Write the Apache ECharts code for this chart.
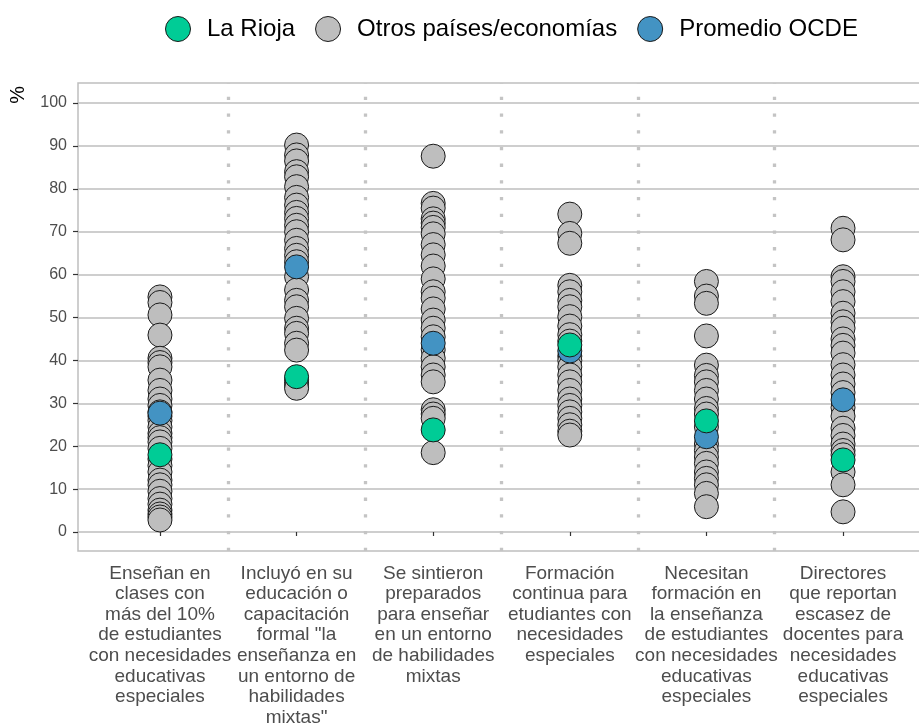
<!DOCTYPE html>
<html>
<head>
<meta charset="utf-8">
<script src="https://cdn.jsdelivr.net/npm/echarts@6/dist/echarts.min.js"></script>
<style>html,body{margin:0;padding:0;background:#fff}#c{width:919px;height:724px}</style>
</head>
<body>
<div id="c"></div>
<script>
var categories = [
  'Enseñan en\nclases con\nmás del 10%\nde estudiantes\ncon necesidades\neducativas\nespeciales',
  'Incluyó en su\neducación o\ncapacitación\nformal "la\nenseñanza en\nun entorno de\nhabilidades\nmixtas"',
  'Se sintieron\npreparados\npara enseñar\nen un entorno\nde habilidades\nmixtas',
  'Formación\ncontinua para\netudiantes con\nnecesidades\nespeciales',
  'Necesitan\nformación en\nla enseñanza\nde estudiantes\ncon necesidades\neducativas\nespeciales',
  'Directores\nque reportan\nescasez de\ndocentes para\nnecesidades\neducativas\nespeciales'
];
var seriesNames = ['La Rioja', 'Otros países/economías', 'Promedio OCDE'];
var yTicks = [0, 10, 20, 30, 40, 50, 60, 70, 80, 90, 100];

var otros1 = [54.8, 53.5, 50.6, 45.9, 40.5, 39.5, 38.5, 35.4, 33, 31, 29.5, 28, 27, 26, 24.5, 23, 22, 21, 19.5, 17, 15.5, 14, 12.1, 11, 9.5, 7.8, 6.5, 5.1, 4.2, 3.5, 2.8];
var otros2 = [90.2, 87.9, 86.5, 84, 82.8, 80.5, 78, 76.2, 74.5, 73.1, 71.5, 70, 68, 66.1, 64.5, 63, 59.5, 56.4, 54, 52.5, 49.8, 47.5, 46.3, 44, 42.4, 35.5, 34.7, 34, 33.5];
var otros3 = [87.6, 76.6, 75.5, 73, 72, 71, 69.5, 67, 64.6, 62, 59, 56, 54.5, 52, 49.4, 47.5, 45.5, 42.5, 40.5, 38.5, 36.6, 35, 28.5, 27.5, 26.5, 18.5];
var otros4 = [74.1, 69.6, 67.3, 57.5, 56, 54, 52.5, 50.2, 48, 46, 44.5, 41, 40, 38.5, 36.6, 35, 33, 31, 29.5, 28, 26.5, 25, 23.5, 22.6];
var otros5 = [58.4, 55, 53.3, 45.7, 38.9, 36.5, 35, 33, 31, 28.8, 27.5, 24.5, 20.5, 19, 17.5, 16, 14, 12.5, 11, 9, 5.9];
var otros6 = [70.8, 68.1, 59.5, 58.4, 56, 53.7, 51, 49, 47.5, 45, 43.5, 41.7, 39, 36.6, 34.5, 32.5, 29, 27, 24.2, 22.5, 20.5, 19, 18, 14, 11, 4.7];
var laRioja = [18.0, 36.2, 23.8, 43.6, 25.9, 16.8];
var promedioOCDE = [27.7, 61.8, 44.0, 42.2, 22.2, 30.8];

var otrosAll = [otros1, otros2, otros3, otros4, otros5, otros6];
var otrosData = [];
otrosAll.forEach(function (arr, i) {
  arr.forEach(function (v) { otrosData.push([i + 1, v]); });
});
function toPoints(arr) { return arr.map(function (v, i) { return [i + 1, v]; }); }

var FONT = "'Liberation Sans', Arial, sans-serif";
var colors = { rioja: '#00cc96', otros: '#bebebe', ocde: '#4393c3' };
var pointStyle = function (c) { return { color: c, borderColor: '#1a1a1a', borderWidth: 1, opacity: 1 }; };

var chart = echarts.init(document.getElementById('c'), null, { renderer: 'canvas' });
chart.setOption({
  animation: false,
  backgroundColor: '#ffffff',
  textStyle: { fontFamily: FONT },
  legend: {
    data: seriesNames,
    left: 160,
    top: 11,
    icon: 'circle',
    itemWidth: 48,
    itemHeight: 25,
    itemGap: 20,
    itemStyle: { borderColor: '#1a1a1a', borderWidth: 1 },
    textStyle: { fontSize: 24, color: '#000', fontFamily: FONT },
    selectedMode: false
  },
  graphic: [{
    type: 'text',
    left: 8,
    top: 86,
    rotation: Math.PI / 2,
    style: { text: '%', fontSize: 20, fill: '#000', fontFamily: FONT }
  }],
  grid: [
    { left: 78, right: -6, top: 103, bottom: 192, outerBoundsMode: 'none', containLabel: false },
    { left: 78, right: -6, top: 83, bottom: 173, outerBoundsMode: 'none', show: true, borderColor: '#bebebe', borderWidth: 1.5, backgroundColor: 'transparent' }
  ],
  xAxis: [
    {
      type: 'value', gridIndex: 0, min: 0.4, max: 6.6, offset: 19,
      axisLine: { show: false },
      splitLine: { show: false },
      axisTick: { show: true, customValues: [1, 2, 3, 4, 5, 6], length: 4, lineStyle: { color: '#333', width: 1.2 } },
      axisLabel: {
        customValues: [1, 2, 3, 4, 5, 6],
        formatter: function (v) { return categories[Math.round(v) - 1] || ''; },
        fontSize: 19, lineHeight: 20.6, color: '#4d4d4d', margin: 12, fontFamily: FONT
      }
    },
    {
      type: 'value', gridIndex: 1, min: 0.4, max: 6.6, show: false
    }
  ],
  yAxis: [
    {
      type: 'value', gridIndex: 0, min: 0, max: 100, interval: 10,
      axisLine: { show: false },
      axisTick: { show: true, length: 5, lineStyle: { color: '#333', width: 1.2 } },
      axisLabel: { fontSize: 16, color: '#4d4d4d', margin: 11, fontFamily: FONT, customValues: yTicks },
      splitLine: { show: true, lineStyle: { color: '#bebebe', width: 1.5 } }
    },
    { type: 'value', gridIndex: 1, min: 0, max: 1, show: false }
  ],
  series: [
    {
      type: 'scatter', xAxisIndex: 1, yAxisIndex: 1, data: [], silent: true,
      markLine: {
        silent: true, symbol: 'none', label: { show: false },
        lineStyle: { color: '#c4c4c4', width: 3.3, type: [3.3, 13.4] },
        data: [{ xAxis: 1.5 }, { xAxis: 2.5 }, { xAxis: 3.5 }, { xAxis: 4.5 }, { xAxis: 5.5 }]
      }
    },
    {
      name: seriesNames[1], type: 'scatter', xAxisIndex: 0, yAxisIndex: 0,
      symbolSize: 24, data: otrosData, itemStyle: pointStyle(colors.otros), clip: false, emphasis: { disabled: true }
    },
    {
      name: seriesNames[2], type: 'scatter', xAxisIndex: 0, yAxisIndex: 0,
      symbolSize: 24, data: toPoints(promedioOCDE), itemStyle: pointStyle(colors.ocde), clip: false, emphasis: { disabled: true }
    },
    {
      name: seriesNames[0], type: 'scatter', xAxisIndex: 0, yAxisIndex: 0,
      symbolSize: 24, data: toPoints(laRioja), itemStyle: pointStyle(colors.rioja), clip: false, emphasis: { disabled: true }
    }
  ]
});
</script>
</body>
</html>
